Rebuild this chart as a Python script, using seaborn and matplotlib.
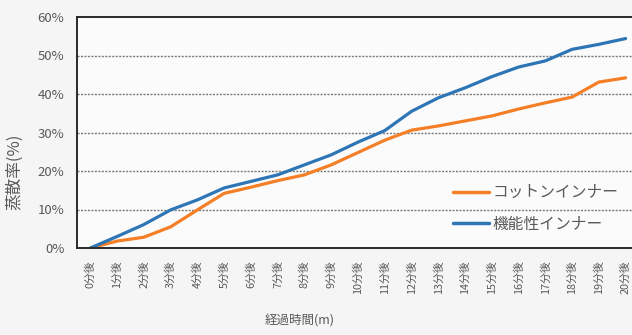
import numpy as np
import pandas as pd
import matplotlib
matplotlib.use("Agg")
import matplotlib.pyplot as plt
import seaborn as sns

minutes = list(range(21))
tick_labels = [f"{m}分後" for m in minutes]
cotton = [0, 1.8, 2.8, 5.5, 9.9, 14.2, 15.8, 17.5, 19.0, 21.6, 24.8, 28.0,
          30.6, 31.7, 33.0, 34.3, 36.1, 37.7, 39.2, 43.1, 44.2]
functional = [0, 3.0, 6.1, 9.9, 12.5, 15.6, 17.3, 19.0, 21.6, 24.2, 27.5, 30.5,
              35.5, 39.0, 41.6, 44.5, 47.0, 48.6, 51.6, 52.9, 54.4]
series_names = ["コットンインナー", "機能性インナー"]
y_ticks = [0, 10, 20, 30, 40, 50, 60]

df = pd.DataFrame({
    "minute": minutes * 2,
    "rate": cotton + functional,
    "series": [series_names[0]] * 21 + [series_names[1]] * 21,
})

sns.set_theme(style="white")
plt.rcParams["font.family"] = ["Noto Sans CJK JP", "DejaVu Sans"]

text_color = "#595959"
fig = plt.figure(figsize=(6.32, 3.35), dpi=100, facecolor="#f5f5f5")
ax = fig.add_axes([77 / 632, 87 / 335, 562 / 632, 231 / 335])
ax.set_facecolor("#fbfbfb")

sns.lineplot(data=df, x="minute", y="rate", hue="series",
             hue_order=series_names,
             palette=["#F47F26", "#2E75B6"], linewidth=2.3, ax=ax)

ax.set_xlim(-0.5, 20.5)
ax.set_ylim(0, 60)
ax.set_yticks(y_ticks)
ax.set_yticklabels([f"{v}%" for v in y_ticks], fontsize=9.5, color=text_color)
ax.set_xticks(minutes)
ax.set_xticklabels(tick_labels, rotation=90, fontsize=7.8, color=text_color,
                   va="top", ha="center")
ax.tick_params(axis="both", length=0)
ax.tick_params(axis="x", pad=9)
ax.tick_params(axis="y", pad=9)

for v in y_ticks[1:-1]:
    ax.axhline(v, color="#7a7a7a", linewidth=1.0, linestyle=(0, (1.5, 1)), zorder=0)

for s in ax.spines.values():
    s.set_color("#2a2a2a")
    s.set_linewidth(1.4)

ax.set_xlabel("経過時間(m)", fontsize=9, color=text_color)
ax.set_ylabel("蒸散率(%)", fontsize=12, color=text_color)
ax.xaxis.set_label_coords(223 / 562, -66 / 231)
ax.yaxis.set_label_coords(-54 / 562, 0.33)

leg = ax.legend(loc="upper left", bbox_to_anchor=(453 / 632, 151 / 335),
                bbox_transform=fig.transFigure, frameon=False, fontsize=11.3,
                handlelength=2.3, handletextpad=0.2, labelspacing=0.95,
                borderpad=0, borderaxespad=0)
for t in leg.get_texts():
    t.set_color(text_color)
for h in leg.get_lines():
    h.set_linewidth(2.5)

fig.savefig("out.png", dpi=100, facecolor=fig.get_facecolor())
